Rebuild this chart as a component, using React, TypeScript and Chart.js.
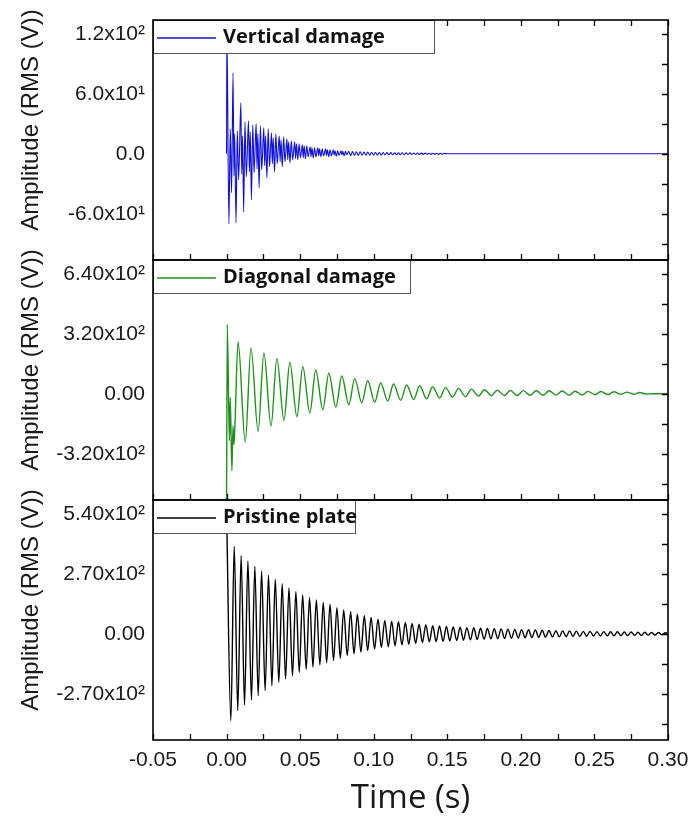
import React, { useEffect, useRef } from 'react';
import { Chart, registerables } from 'chart.js';
Chart.register(...registerables);

// x axis (time in ms, labelled in seconds)
const xTickValues = [-50, 0, 50, 100, 150, 200, 250, 300];
const xTickLabels = ['-0.05', '0.00', '0.05', '0.10', '0.15', '0.20', '0.25', '0.30'];

// y ticks per panel
const verticalTicks = [-60, 0, 60, 120];
const verticalTickLabels = ['-6.0x10¹', '0.0', '6.0x10¹', '1.2x10²'];
const diagonalTicks = [-320, 0, 320, 640];
const diagonalTickLabels = ['-3.20x10²', '0.00', '3.20x10²', '6.40x10²'];
const pristineTicks = [-270, 0, 270, 540];
const pristineTickLabels = ['-2.70x10²', '0.00', '2.70x10²', '5.40x10²'];

// series: [time (ms), amplitude]
const verticalDamage = [
  [0, 0], [0.2, 125], [1.6, -70], [2.5, 25], [3.4, -39], [4.4, 81], [5.0, -22], [5.5, 20],
  [6.4, -69], [7.3, 23], [8.2, -26], [9.7, 51], [10.3, -20], [10.9, 18],
  [11.6, -58], [12.5, 32], [13.4, -23], [14.9, 33], [15.5, -18], [16.1, 22],
  [16.9, -46], [17.8, 29], [18.7, -19], [20.1, 30], [20.7, -15], [21.3, 20],
  [22.1, -34], [23.0, 28], [23.9, -16], [25.3, 26], [25.9, -12], [26.5, 18],
  [27.4, -24], [28.3, 25], [29.2, -13], [30.5, 21], [31.1, -10], [31.7, 16],
  [32.6, -18], [33.5, 20], [34.4, -10], [35.8, 18], [36.4, -8], [37.0, 14],
  [37.9, -13], [38.8, 17], [39.7, -8], [41.0, 15], [41.6, -6], [42.2, 12],
  [43.1, -9], [44.0, 13], [44.9, -6], [46.3, 12], [46.9, -5], [47.5, 10],
  [48.4, -6], [49.3, 10], [50.2, -4], [51.5, 9], [52.1, -4], [52.7, 8],
  [53.6, -5], [54.5, 8], [55.4, -3], [56.8, 7], [57.4, -3], [58.0, 6],
  [58.9, -4], [59.8, 6], [60.7, -3], [62.0, 6], [62.6, -2], [63.2, 5],
  [64.1, -3], [65.0, 5], [65.9, -2], [67.3, 5], [67.9, -2], [68.5, 4],
  [69.4, -3], [70.3, 4], [71.2, -2], [72.5, 4], [73.1, -1.5], [73.7, 3],
  [74.6, -2.5], [75.5, 3], [76.4, -1.5], [77.8, 3], [78.4, -1], [79.0, 2.5],
  [79.9, -2], [80.8, 2.5], [81.7, -1], [83.0, 2.5],
  [84.3, -1.8], [85.6, 2.2], [86.9, -1.7], [88.2, 2.0], [89.5, -1.6], [90.8, 2.0],
  [92.1, -1.5], [93.4, 1.8], [94.7, -1.5], [96.0, 1.7], [97.3, -1.4], [98.6, 1.6],
  [99.9, -1.3], [101.2, 1.5], [102.5, -1.2], [103.8, 1.4], [105.1, -1.2], [106.4, 1.3],
  [107.7, -1.1], [109.0, 1.2], [110.3, -1.0], [111.6, 1.2], [112.9, -1.0], [114.2, 1.1],
  [115.5, -0.9], [116.8, 1.0], [118.1, -0.9], [119.4, 1.0], [120.7, -0.8], [122.0, 0.9],
  [123.3, -0.8], [124.6, 0.9], [125.9, -0.7], [127.2, 0.8], [128.5, -0.7], [129.8, 0.8],
  [131.1, -0.6], [132.4, 0.7], [133.7, -0.6], [135.0, 0.7], [136.3, -0.5], [137.6, 0.6],
  [138.9, -0.5], [140.2, 0.6], [141.5, -0.5], [142.8, 0.5], [144.1, -0.4], [145.4, 0.5],
  [146.7, -0.4], [148.0, 0.4], [150, 0], [300, 0],
];

const diagonalDamage = [
  [0, -580], [0.5, 370], [1.9, -250], [2.5, -20], [3.6, -410], [4.4, -170], [5.0, -270], [5.6, -190],
  [7.8, 278], [12.7, -258], [16.6, 245], [21.4, -200], [25.4, 218], [30.2, -172],
  [34.2, 188], [39.0, -142], [43.0, 168], [47.8, -122], [51.8, 145], [56.6, -102],
  [60.6, 127], [65.4, -85], [69.5, 110], [74.3, -70], [78.3, 95], [83.1, -58],
  [87.1, 81], [91.9, -48], [95.9, 70], [100.7, -44], [104.7, 58], [109.5, -38],
  [113.5, 52], [118.3, -34], [122.4, 47], [127.2, -31], [131.2, 43], [136.0, -27],
  [140.0, 38], [144.8, -22], [148.8, 33], [153.6, -18], [157.6, 29], [162.4, -15],
  [166.4, 25], [171.2, -12], [175.2, 22], [180.0, -10], [184.0, 19], [188.8, -9],
  [192.8, 18], [197.6, -9], [201.6, 17], [206.4, -8], [210.4, 16], [215.2, -8],
  [219.2, 16], [224.0, -7], [228.0, 15], [232.8, -7], [236.8, 14], [241.6, -6],
  [245.6, 13], [250.4, -5], [254.4, 12], [259.2, -4], [263.2, 11], [268.0, -3],
  [272.0, 9], [276.8, -3], [280.8, 7], [285.0, -1], [290.0, 0], [300, 0],
];

const pristinePlate = [
  [0, 560], [2.9, -391], [5.2, 393], [7.6, -346], [9.9, 351], [12.2, -320], [14.5, 328],
  [16.9, -298], [19.2, 303], [21.5, -279], [23.8, 283], [26.2, -256], [28.5, 265],
  [30.8, -234], [33.1, 246], [35.5, -219], [37.8, 226], [40.1, -204], [42.4, 206],
  [44.8, -189], [47.1, 191], [49.4, -174], [51.7, 175], [54.1, -160], [56.4, 164],
  [58.7, -150], [61.0, 152], [63.4, -140], [65.7, 141], [68.0, -130], [70.3, 133],
  [72.7, -120], [75.0, 118], [77.3, -110], [79.6, 107], [82.0, -98], [84.3, 100],
  [86.6, -90], [88.9, 88], [91.3, -82], [93.6, 81], [95.9, -75], [98.2, 74],
  [100.6, -68], [102.9, 66], [105.2, -62], [107.5, 60], [109.9, -58], [112.2, 57],
  [114.5, -54], [116.8, 54], [119.2, -50], [121.5, 51], [123.8, -47], [126.1, 47],
  [128.5, -43], [130.8, 43], [133.1, -39], [135.4, 40], [137.8, -36], [140.1, 36],
  [142.4, -35], [144.7, 35], [147.1, -34], [149.4, 33], [151.7, -32], [154.0, 31],
  [156.4, -30], [158.7, 30], [161.0, -29], [163.3, 28], [165.7, -27], [168.0, 27],
  [170.3, -26], [172.6, 25], [175.0, -24], [177.3, 24], [179.6, -23], [181.9, 23],
  [184.3, -22], [186.6, 22], [188.9, -21], [191.2, 21], [193.6, -20], [195.9, 20],
  [198.2, -19], [200.5, 19], [202.9, -18], [205.2, 18], [207.5, -17], [209.8, 17],
  [212.2, -16], [214.5, 16], [216.8, -15], [219.1, 15], [221.5, -14], [223.8, 14],
  [226.1, -14], [228.4, 13], [230.8, -13], [233.1, 13], [235.4, -12], [237.7, 12],
  [240.1, -12], [242.4, 11], [244.7, -11], [247.0, 11], [249.4, -10], [251.7, 10],
  [254.0, -10], [256.3, 10], [258.7, -9], [261.0, 9], [263.3, -9], [265.6, 9],
  [268.0, -8], [270.3, 8], [272.6, -8], [274.9, 8], [277.3, -7], [279.6, 7],
  [281.9, -7], [284.2, 7], [286.6, -6], [288.9, 6], [291.2, -6], [293.5, 6],
  [295.9, -5], [298.2, 5], [300, 0],
];

const TICK_FONT = '"Liberation Sans", Arial, sans-serif';
const TEXT_COLOR = '#1a1a1a';

type PanelCfg = {
  series: number[][];
  color: string;
  lineWidth: number;
  label: string;
  ticks: number[];
  tickLabels: string[];
  canvasTop: number;
  canvasHeight: number;
  legendWidth: number;
  showX: boolean;
  topTicks: boolean;
};

const panels: PanelCfg[] = [
  { series: verticalDamage, color: '#1010dc', lineWidth: 1.1, label: 'Vertical damage', ticks: verticalTicks, tickLabels: verticalTickLabels, canvasTop: 0, canvasHeight: 262, legendWidth: 281, showX: false, topTicks: true },
  { series: diagonalDamage, color: '#22901f', lineWidth: 1.4, label: 'Diagonal damage', ticks: diagonalTicks, tickLabels: diagonalTickLabels, canvasTop: 240, canvasHeight: 262, legendWidth: 257, showX: false, topTicks: false },
  { series: pristinePlate, color: '#000000', lineWidth: 1.4, label: 'Pristine plate', ticks: pristineTicks, tickLabels: pristineTickLabels, canvasTop: 480, canvasHeight: 338, legendWidth: 202, showX: true, topTicks: false },
];

function Panel({ cfg }: { cfg: PanelCfg }) {
  const ref = useRef<HTMLCanvasElement>(null);
  useEffect(() => {
    const step = cfg.ticks[2] - cfg.ticks[1];
    const yMin = -1.77 * step;
    const yMax = 2.23 * step;
    const overlay = {
      id: 'frameOverlay',
      afterDraw(chart: any) {
        const { ctx, chartArea: a, scales } = chart;
        const xs = scales.x;
        const ys = scales.y;
        ctx.save();
        // inward ticks
        ctx.strokeStyle = '#000';
        ctx.lineWidth = 1.3;
        const xMarks: number[] = [];
        for (let i = 0; i < xTickValues.length; i++) {
          xMarks.push(xTickValues[i]);
          if (i < xTickValues.length - 1) xMarks.push((xTickValues[i] + xTickValues[i + 1]) / 2);
        }
        ctx.beginPath();
        xMarks.forEach((v) => {
          const px = Math.round(xs.getPixelForValue(v)) + 0.5;
          ctx.moveTo(px, a.bottom);
          ctx.lineTo(px, a.bottom - 6);
          if (cfg.topTicks) {
            ctx.moveTo(px, a.top);
            ctx.lineTo(px, a.top + 6);
          }
        });
        const yMarks: number[] = [];
        for (let i = 0; i < cfg.ticks.length; i++) {
          yMarks.push(cfg.ticks[i]);
          yMarks.push(cfg.ticks[i] - step / 2);
        }
        yMarks.forEach((v) => {
          if (v < yMin || v > yMax) return;
          const py = Math.round(ys.getPixelForValue(v)) + 0.5;
          ctx.moveTo(a.right, py);
          ctx.lineTo(a.right - 6, py);
        });
        ctx.stroke();
        // legend box
        const lh = 33;
        ctx.fillStyle = '#fff';
        ctx.fillRect(a.left, a.top, cfg.legendWidth, lh);
        ctx.strokeStyle = '#555';
        ctx.lineWidth = 1;
        ctx.strokeRect(a.left + 0.5, a.top + 0.5, cfg.legendWidth, lh);
        ctx.strokeStyle = cfg.color;
        ctx.lineWidth = 1.5;
        ctx.beginPath();
        ctx.moveTo(a.left + 4, a.top + 18);
        ctx.lineTo(a.left + 63, a.top + 18);
        ctx.stroke();
        ctx.fillStyle = '#111';
        ctx.font = 'bold 20px "Open Sans", sans-serif';
        ctx.textAlign = 'left';
        ctx.textBaseline = 'middle';
        ctx.fillText(cfg.label, a.left + 70, a.top + 17);
        // frame
        ctx.strokeStyle = '#000';
        ctx.lineWidth = 1.6;
        ctx.strokeRect(a.left, a.top, a.right - a.left, a.bottom - a.top);
        // y title
        ctx.save();
        ctx.translate(31, (a.top + a.bottom) / 2 - 20);
        ctx.rotate(-Math.PI / 2);
        ctx.fillStyle = TEXT_COLOR;
        ctx.font = '24px ' + TICK_FONT;
        ctx.textAlign = 'center';
        ctx.textBaseline = 'middle';
        ctx.fillText('Amplitude (RMS (V))', 0, 0);
        ctx.restore();
        ctx.restore();
      },
    };
    const chart = new Chart(ref.current as HTMLCanvasElement, {
      type: 'line',
      data: {
        datasets: [
          {
            data: cfg.series.map(([t, v]) => ({ x: t, y: v })),
            borderColor: cfg.color,
            borderWidth: cfg.lineWidth,
            pointRadius: 0,
            fill: false,
            cubicInterpolationMode: 'monotone',
          },
        ],
      },
      options: {
        responsive: false,
        animation: false,
        events: [],
        layout: { padding: { top: 20, right: 24, left: 0, bottom: cfg.showX ? 0 : 2 } },
        plugins: { legend: { display: false }, tooltip: { enabled: false } },
        scales: {
          x: {
            type: 'linear',
            min: -50,
            max: 300,
            display: cfg.showX,
            grid: { display: false, drawTicks: false },
            border: { display: false },
            afterBuildTicks: (s: any) => {
              s.ticks = xTickValues.map((v) => ({ value: v }));
            },
            afterFit: (s: any) => {
              s.paddingLeft = 0;
              s.paddingRight = 0;
              s.height = cfg.showX ? 78 : 0;
            },
            ticks: {
              autoSkip: false,
              maxRotation: 0,
              padding: 8,
              color: TEXT_COLOR,
              font: { family: TICK_FONT, size: 21 },
              callback: (v: any) => xTickLabels[xTickValues.indexOf(Number(v))] ?? '',
            },
            title: {
              display: true,
              text: 'Time (s)',
              color: TEXT_COLOR,
              font: { family: '"Open Sans", sans-serif', size: 33 },
              padding: { top: 0, bottom: 0 },
            },
          },
          y: {
            type: 'linear',
            min: yMin,
            max: yMax,
            grid: { display: false, drawTicks: false },
            border: { display: false },
            afterBuildTicks: (s: any) => {
              s.ticks = cfg.ticks.map((v) => ({ value: v }));
            },
            afterFit: (s: any) => {
              s.paddingTop = 0;
              s.paddingBottom = 0;
              s.width = 153;
            },
            ticks: {
              padding: 8,
              color: TEXT_COLOR,
              font: { family: TICK_FONT, size: 21 },
              callback: (v: any) => cfg.tickLabels[cfg.ticks.indexOf(Number(v))] ?? '',
            },
          },
        },
      },
      plugins: [overlay],
    } as any);
    return () => chart.destroy();
  }, []);
  return (
    <canvas
      ref={ref}
      width={692}
      height={cfg.canvasHeight}
      style={{ position: 'absolute', left: 0, top: cfg.canvasTop, width: 692, height: cfg.canvasHeight, display: 'block' }}
    />
  );
}

export default function App() {
  return (
    <div style={{ position: 'absolute', left: 0, top: 0, width: 692, height: 818, background: '#fff' }}>
      {panels.map((p, i) => (
        <Panel key={i} cfg={p} />
      ))}
    </div>
  );
}
